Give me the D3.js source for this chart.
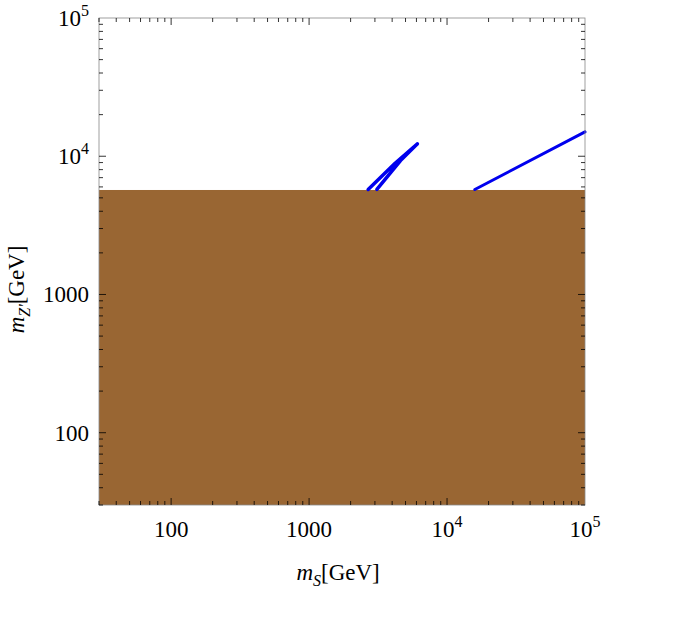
<!DOCTYPE html><html><head><script src="https://cdn.jsdelivr.net/npm/d3@7"></script>
<style>body{margin:0;background:#fff}text{font-family:"Liberation Serif",serif}</style></head><body>
<svg id="c" width="677" height="640"></svg>
<script>
const xDomain=[30,1e5], yDomain=[30,1e5];
const excludedTop=5700;
const loopCurve=[[2680,5750],[4200,8900],[6100,12300],[4600,9300],[3100,5750]];
const lineCurve=[[15900,5750],[1e5,15000]];
const xMajor=[100,1000,1e4,1e5], xLabels=["100","1000","10^4","10^5"];
const yMajor=[100,1000,1e4,1e5], yLabels=["100","1000","10^4","10^5"];
const svg=d3.select("#c");
const L=99,R=585,T=18,B=505;
const x=d3.scaleLog().domain(xDomain).range([L,R]);
const y=d3.scaleLog().domain(yDomain).range([B,T]);
svg.append("rect").attr("x",L).attr("y",y(excludedTop)).attr("width",R-L).attr("height",B-y(excludedTop)).attr("fill","#996633");
const ln=d3.line().x(d=>x(d[0])).y(d=>y(d[1]));
svg.append("path").attr("d",ln(loopCurve)).attr("fill","none").attr("stroke","#0000ee").attr("stroke-width",3.5).attr("stroke-linejoin","round").attr("stroke-linecap","round");
svg.append("path").attr("d",ln(lineCurve)).attr("fill","none").attr("stroke","#0000ee").attr("stroke-width",3).attr("stroke-linecap","round");
svg.append("rect").attr("x",L).attr("y",T).attr("width",R-L).attr("height",B-T).attr("fill","none").attr("stroke","#888").attr("stroke-width",0.8);
const minor=[];for(let e=1;e<5;e++)for(let k=1;k<10;k++){const v=k*Math.pow(10,e);if(v>=30&&v<=1e5)minor.push([v,k===1]);}
const g=svg.append("g").attr("stroke","#000").attr("stroke-width",0.8);
minor.forEach(([v,maj])=>{const s=maj?7:4;
 g.append("line").attr("x1",x(v)).attr("x2",x(v)).attr("y1",B).attr("y2",B-s);
 g.append("line").attr("x1",x(v)).attr("x2",x(v)).attr("y1",T).attr("y2",T+s);
 g.append("line").attr("y1",y(v)).attr("y2",y(v)).attr("x1",L).attr("x2",L+s);
 g.append("line").attr("y1",y(v)).attr("y2",y(v)).attr("x1",R).attr("x2",R-s);});
function lab(sel,t){if(t.startsWith("10^")){sel.text("10");sel.append("tspan").attr("dy",-10).attr("font-size",16).text(t.slice(3));}else sel.text(t);}
xMajor.forEach((v,i)=>{lab(svg.append("text").attr("x",x(v)).attr("y",B+32).attr("text-anchor","middle").attr("font-size",23),xLabels[i]);});
yMajor.forEach((v,i)=>{lab(svg.append("text").attr("x",L-10).attr("y",y(v)+8).attr("text-anchor","end").attr("font-size",23),yLabels[i]);});
const xt=svg.append("text").attr("x",x(1000)+29).attr("y",580).attr("text-anchor","middle").attr("font-size",23);
xt.append("tspan").attr("font-style","italic").text("m");xt.append("tspan").attr("font-style","italic").attr("font-size",16).attr("dy",6).text("S");xt.append("tspan").attr("dy",-6).text("[GeV]");
const yt=svg.append("text").attr("transform",`translate(24,${y(1000)-5}) rotate(-90)`).attr("text-anchor","middle").attr("font-size",23);
yt.append("tspan").attr("font-style","italic").text("m");yt.append("tspan").attr("font-style","italic").attr("font-size",16).attr("dy",6).text("Z'");yt.append("tspan").attr("dy",-6).text("[GeV]");
</script></body></html>
